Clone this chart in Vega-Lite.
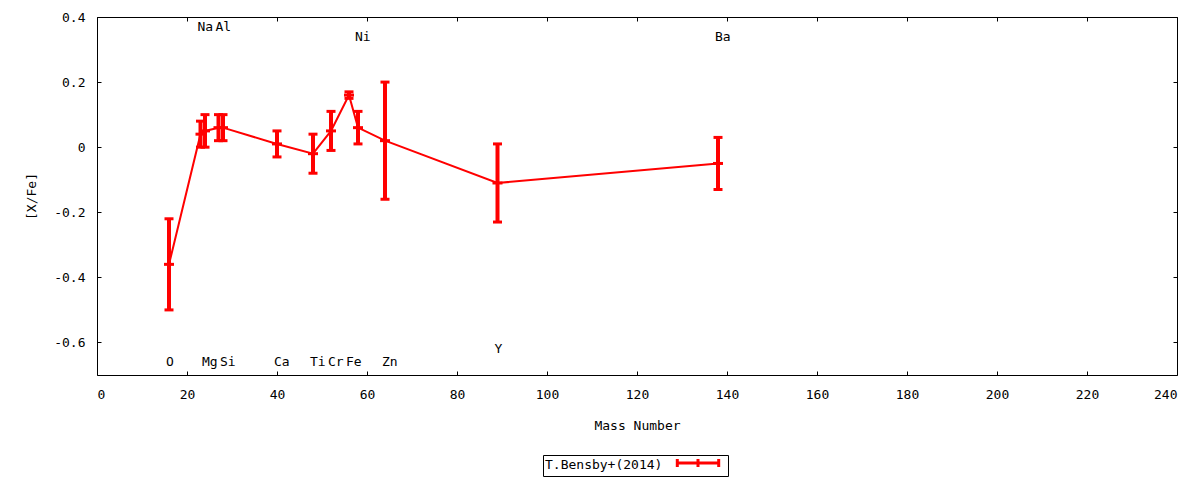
{
  "$schema": "https://vega.github.io/schema/vega-lite/v6.json",
  "width": 1080,
  "height": 358,
  "autosize": {"type": "none"},
  "padding": {"left": 97, "top": 17, "right": 23, "bottom": 105},
  "background": "white",
  "config": {
    "view": {"stroke": "black", "strokeWidth": 1},
    "font": "DejaVu Sans Mono",
    "axis": {
      "labelFont": "DejaVu Sans Mono",
      "labelFontSize": 13,
      "labelColor": "black",
      "titleFont": "DejaVu Sans Mono",
      "titleFontSize": 13,
      "titleFontWeight": "normal",
      "titleColor": "black",
      "grid": false,
      "domain": false,
      "tickColor": "black",
      "tickSize": -4,
      "tickWidth": 1
    },
    "legend": {
      "orient": "none",
      "legendX": 446,
      "legendY": 438,
      "strokeColor": "black",
      "padding": 2,
      "titleFont": "DejaVu Sans Mono",
      "titleFontSize": 13,
      "titleFontWeight": "normal",
      "titleColor": "black",
      "titleOrient": "left",
      "titleBaseline": "middle",
      "titlePadding": 12,
      "labelFontSize": 1,
      "labelOffset": 5,
      "symbolType": "M-4.8,0L4.8,0M-4.6,-0.9L-4.6,0.9M0,-0.9L0,0.9M4.6,-0.9L4.6,0.9",
      "symbolSize": 81,
      "symbolOffset": 17,
      "symbolStrokeWidth": 3,
      "symbolOpacity": 1
    }
  },
  "datasets": {
    "abund": [
      {"element": "O", "mass": 16, "value": -0.36, "lo": -0.50, "hi": -0.22, "source": "T.Bensby+(2014)"},
      {"element": "Na", "mass": 23, "value": 0.04, "lo": 0.00, "hi": 0.08, "source": "T.Bensby+(2014)"},
      {"element": "Mg", "mass": 24, "value": 0.05, "lo": 0.00, "hi": 0.10, "source": "T.Bensby+(2014)"},
      {"element": "Al", "mass": 27, "value": 0.06, "lo": 0.02, "hi": 0.10, "source": "T.Bensby+(2014)"},
      {"element": "Si", "mass": 28, "value": 0.06, "lo": 0.02, "hi": 0.10, "source": "T.Bensby+(2014)"},
      {"element": "Ca", "mass": 40, "value": 0.01, "lo": -0.03, "hi": 0.05, "source": "T.Bensby+(2014)"},
      {"element": "Ti", "mass": 48, "value": -0.02, "lo": -0.08, "hi": 0.04, "source": "T.Bensby+(2014)"},
      {"element": "Cr", "mass": 52, "value": 0.05, "lo": -0.01, "hi": 0.11, "source": "T.Bensby+(2014)"},
      {"element": "Fe", "mass": 56, "value": 0.16, "lo": 0.15, "hi": 0.17, "source": "T.Bensby+(2014)"},
      {"element": "Ni", "mass": 58, "value": 0.06, "lo": 0.01, "hi": 0.11, "source": "T.Bensby+(2014)"},
      {"element": "Zn", "mass": 64, "value": 0.02, "lo": -0.16, "hi": 0.20, "source": "T.Bensby+(2014)"},
      {"element": "Y", "mass": 89, "value": -0.11, "lo": -0.23, "hi": 0.01, "source": "T.Bensby+(2014)"},
      {"element": "Ba", "mass": 138, "value": -0.05, "lo": -0.13, "hi": 0.03, "source": "T.Bensby+(2014)"}
    ],
    "labels": [
      {"element": "O", "mass": 16, "pos": -0.66},
      {"element": "Na", "mass": 23, "pos": 0.37},
      {"element": "Mg", "mass": 24, "pos": -0.66},
      {"element": "Al", "mass": 27, "pos": 0.37},
      {"element": "Si", "mass": 28, "pos": -0.66},
      {"element": "Ca", "mass": 40, "pos": -0.66},
      {"element": "Ti", "mass": 48, "pos": -0.66},
      {"element": "Cr", "mass": 52, "pos": -0.66},
      {"element": "Fe", "mass": 56, "pos": -0.66},
      {"element": "Ni", "mass": 58, "pos": 0.34},
      {"element": "Zn", "mass": 64, "pos": -0.66},
      {"element": "Y", "mass": 89, "pos": -0.62},
      {"element": "Ba", "mass": 138, "pos": 0.34}
    ]
  },
  "layer": [
    {
      "data": {"name": "abund"},
      "encoding": {
        "x": {
          "field": "mass",
          "type": "quantitative",
          "scale": {"domain": [0, 240], "nice": false, "zero": false},
          "axis": {
            "orient": "bottom",
            "values": [0, 20, 40, 60, 80, 100, 120, 140, 160, 180, 200, 220, 240],
            "title": "Mass Number",
            "labelPadding": 17,
            "titleY": 50,
            "titleBaseline": "middle"
          }
        }
      },
      "layer": [
        {
          "mark": {"type": "line", "strokeWidth": 2},
          "encoding": {
            "y": {
              "field": "value",
              "type": "quantitative",
              "scale": {"domain": [-0.7, 0.4], "nice": false, "zero": false},
              "axis": {
                "orient": "left",
                "values": [-0.6, -0.4, -0.2, 0, 0.2, 0.4],
                "labelExpr": "replace(format(datum.value, '~g'), '\u2212', '-')",
                "title": "[X/Fe]",
                "labelPadding": 16,
                "titleX": -66,
                "titleY": 179,
                "titleBaseline": "middle"
              }
            },
            "color": {
              "field": "source",
              "type": "nominal",
              "scale": {"range": ["#ff0000"]},
              "legend": {"title": "T.Bensby+(2014)", "labelExpr": "''"}
            }
          }
        },
        {
          "mark": {"type": "rule", "color": "#ff0000", "strokeWidth": 4, "opacity": 1},
          "encoding": {
            "y": {"field": "lo", "type": "quantitative"},
            "y2": {"field": "hi"}
          }
        },
        {
          "mark": {"type": "tick", "color": "#ff0000", "orient": "horizontal", "size": 9, "thickness": 3, "opacity": 1},
          "encoding": {"y": {"field": "lo", "type": "quantitative"}}
        },
        {
          "mark": {"type": "tick", "color": "#ff0000", "orient": "horizontal", "size": 9, "thickness": 3, "opacity": 1},
          "encoding": {"y": {"field": "hi", "type": "quantitative"}}
        },
        {
          "mark": {"type": "tick", "color": "#ff0000", "orient": "horizontal", "size": 10, "thickness": 3, "opacity": 1},
          "encoding": {"y": {"field": "value", "type": "quantitative"}}
        }
      ]
    },
    {
      "data": {"name": "labels"},
      "mark": {"type": "text", "align": "left", "baseline": "middle", "dx": -3, "font": "DejaVu Sans Mono", "fontSize": 13, "color": "black"},
      "encoding": {
        "x": {
          "field": "mass",
          "type": "quantitative",
          "scale": {"domain": [0, 240], "nice": false, "zero": false},
          "axis": {"orient": "top", "values": [0, 20, 40, 60, 80, 100, 120, 140, 160, 180, 200, 220, 240], "labels": false, "title": null}
        },
        "y": {
          "field": "pos",
          "type": "quantitative",
          "scale": {"domain": [-0.7, 0.4], "nice": false, "zero": false},
          "axis": {"orient": "right", "values": [-0.6, -0.4, -0.2, 0, 0.2, 0.4], "labels": false, "title": null}
        },
        "text": {"field": "element"}
      }
    }
  ],
  "resolve": {"axis": {"x": "independent", "y": "independent"}}
}
